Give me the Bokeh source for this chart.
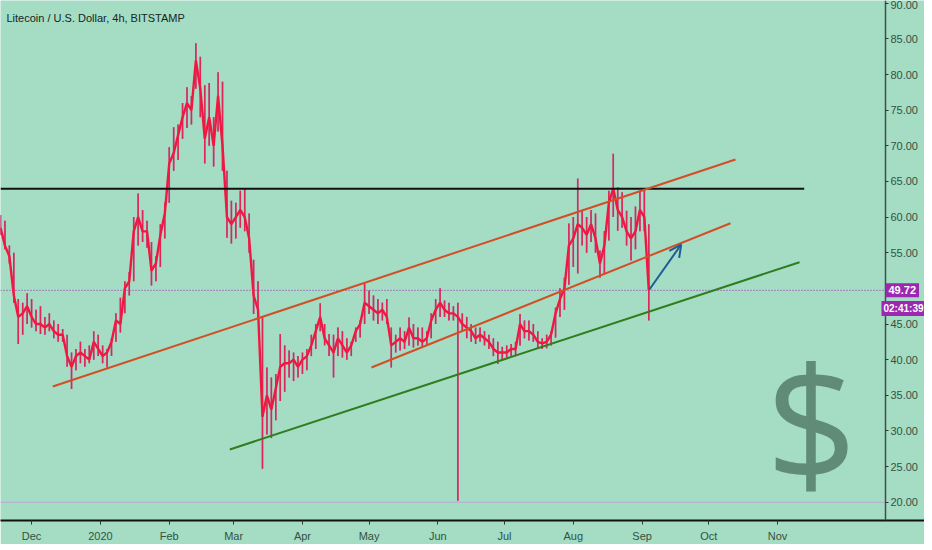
import pandas as pd
from bokeh.plotting import figure
from bokeh.models import (ColumnDataSource, FixedTicker, Label, Arrow, OpenHead,
                          PrintfTickFormatter, Range1d)
from bokeh.embed import file_html
from bokeh.resources import INLINE

# ---------------- data ----------------
title_text = "Litecoin / U.S. Dollar, 4h, BITSTAMP"
start_date = "2019-11-17"          # first sample, one sample every 2 days
highs = [60.3, 59.5, 56.0, 55.0, 48.5, 48.0, 49.3, 48.5, 47.0, 47.5,
         46.0, 46.5, 45.5, 45.0, 44.3, 43.5, 41.0, 41.5, 42.5, 41.5,
         42.0, 44.0, 43.5, 42.0, 41.5, 43.0, 46.5, 48.7, 51.0, 52.3,
         60.0, 63.3, 61.0, 59.5, 56.5, 54.5, 59.0, 62.0, 69.8, 72.6,
         73.0, 76.0, 78.2, 77.0, 84.4, 82.5, 78.5, 78.8, 74.0, 80.3,
         79.0, 66.5, 62.3, 62.0, 63.7, 64.0, 60.5, 54.0, 51.0, 46.0,
         38.9, 37.5, 38.0, 43.6, 42.0, 41.3, 41.0, 40.5, 41.0, 41.5,
         43.5, 45.0, 47.9, 45.0, 43.6, 43.5, 44.5, 44.0, 43.0, 42.5,
         44.5, 45.5, 50.7, 49.7, 49.0, 48.5, 48.0, 48.5, 44.5, 43.5,
         44.5, 44.0, 45.9, 45.0, 44.5, 44.5, 44.0, 46.5, 48.5, 50.0,
         48.3, 48.0, 47.5, 48.0, 46.5, 46.0, 45.0, 44.5, 44.5, 44.0,
         43.5, 43.0, 42.5, 41.8, 42.0, 42.2, 42.5, 46.4, 45.5, 45.5,
         45.0, 44.0, 43.0, 43.5, 44.0, 47.3, 50.0, 51.5, 59.1, 60.0,
         65.4, 60.9, 60.0, 61.0, 60.5, 55.3, 58.0, 63.7, 68.9, 64.2,
         63.5, 60.9, 60.0, 61.5, 63.7, 63.9, 59.0]
lows = [57.5, 55.5, 53.5, 48.0, 42.2, 43.5, 45.0, 44.5, 44.0, 43.6,
        43.5, 44.0, 43.0, 42.5, 42.5, 39.0, 35.9, 38.5, 39.5, 39.0,
        39.5, 40.0, 40.5, 39.5, 38.9, 40.5, 42.5, 43.8, 46.5, 49.0,
        51.0, 56.0, 56.5, 55.7, 50.4, 51.0, 53.0, 57.0, 62.0, 66.5,
        68.0, 71.0, 72.5, 73.0, 78.0, 74.0, 67.5, 70.0, 67.1, 72.0,
        66.5, 57.1, 56.3, 57.0, 58.5, 58.0, 55.0, 46.4, 45.9, 24.7,
        29.5, 29.0, 31.5, 34.2, 35.5, 37.5, 37.0, 37.5, 38.0, 38.5,
        40.5, 41.5, 44.0, 42.0, 40.5, 37.5, 40.5, 40.3, 40.0, 40.5,
        42.5, 43.1, 45.0, 46.4, 45.5, 45.0, 45.5, 45.0, 38.9, 41.0,
        41.3, 41.5, 42.0, 41.7, 42.0, 41.7, 42.0, 43.0, 45.0, 46.0,
        46.0, 45.5, 45.5, 20.2, 44.0, 43.0, 42.5, 42.2, 42.5, 42.0,
        41.5, 40.5, 39.4, 40.0, 40.3, 40.4, 40.5, 42.0, 43.0, 42.7,
        42.5, 41.5, 41.5, 41.6, 42.0, 43.1, 46.0, 47.0, 50.5, 53.0,
        52.1, 56.0, 55.0, 56.5, 55.0, 51.5, 52.0, 56.7, 60.0, 58.1,
        58.5, 56.0, 53.9, 55.5, 58.0, 58.0, 45.5]
closes = [58.5, 56.0, 54.5, 49.0, 46.0, 46.5, 47.5, 46.0, 45.0, 45.0,
          44.5, 45.0, 44.0, 43.5, 43.5, 40.5, 39.0, 40.5, 41.0, 40.5,
          40.0, 42.5, 41.5, 40.5, 41.0, 42.5, 45.5, 45.0, 50.0, 51.0,
          58.0, 60.0, 58.0, 58.0, 52.5, 53.5, 57.5, 60.5, 67.5, 69.0,
          71.5, 74.0, 76.0, 75.0, 82.0, 78.0, 71.0, 74.0, 70.0, 77.0,
          70.0, 60.0, 59.0, 60.0, 61.0, 60.0, 57.0, 49.0, 47.0, 32.0,
          35.0, 33.0, 36.0, 39.0, 39.5, 39.5, 40.0, 39.0, 40.0, 40.5,
          42.0, 44.0, 46.0, 43.0, 42.0, 41.0, 43.0, 42.0, 41.0, 42.0,
          44.0, 45.0, 48.0, 47.5, 47.0, 46.5, 47.0, 46.0, 42.0, 42.5,
          43.0, 42.5, 44.5, 43.0, 43.0, 42.5, 43.0, 45.5, 47.0, 48.0,
          47.0, 46.5, 46.5, 46.0, 45.0, 44.5, 44.0, 43.0, 43.5, 43.0,
          42.5, 41.5, 41.0, 41.0, 41.0, 41.5, 41.5, 45.0, 44.0, 44.0,
          43.5, 42.5, 42.3, 42.5, 43.5, 46.5, 48.5, 50.0, 56.0, 57.0,
          59.0, 58.5, 57.5, 59.0, 57.0, 53.5, 56.0, 62.0, 64.0, 61.0,
          60.0, 58.0, 57.0, 58.0, 61.0, 60.0, 49.72]

last_price = 49.72
last_price_text = "49.72"
countdown_text = "02:41:39"
low_line_price = 20.0

month_ticks = ["2019-12-01", "2020-01-01", "2020-02-01", "2020-03-01",
               "2020-04-01", "2020-05-01", "2020-06-01", "2020-07-01",
               "2020-08-01", "2020-09-01", "2020-10-01", "2020-11-01"]
month_labels = ["Dec", "2020", "Feb", "Mar", "Apr", "May", "Jun", "Jul",
                "Aug", "Sep", "Oct", "Nov"]
price_ticks = [20, 25, 30, 35, 40, 45, 50, 55, 60, 65, 70, 75, 80, 85, 90]

resistance_dates = ["2019-11-17", "2020-11-13"]
resistance_prices = [63.97, 63.97]
upper_channel_dates = ["2019-12-10 13:00", "2020-10-13 01:00"]
upper_channel_prices = [36.23, 68.08]
mid_channel_dates = ["2020-05-02 02:00", "2020-10-10 19:00"]
mid_channel_prices = [38.90, 59.14]
support_dates = ["2020-02-28 07:00", "2020-11-10 21:00"]
support_prices = [27.40, 53.67]
arrow_dates = ["2020-09-04 07:00", "2020-09-18 14:00"]
arrow_prices = [49.84, 56.15]
dollar_date = "2020-11-16 07:00"
dollar_price = 31.5

axis_date = "2020-12-19 14:24"          # where the price scale sits
view_dates = ["2019-11-17 00:00", "2021-01-06 04:20"]
view_prices = [17.44, 90.38]

# ---------------- style ----------------
BG = "#a4dcc4"
RED = "#f2173f"
PURPLE = "#8a62c6"
ORANGE = "#d24f25"
GREEN = "#2f7d1c"
BLUE = "#1f5c96"
TEXT = "#34523f"
BOX = "#9c27b0"
FONT = "Liberation Sans"


def ms(s):
    return pd.Timestamp(s).timestamp() * 1000.0


dates = pd.date_range(start_date, periods=len(highs), freq="2D")
src = ColumnDataSource(dict(date=dates, high=highs, low=lows, close=closes))

p = figure(frame_width=924, frame_height=520, x_axis_type="datetime",
           y_axis_location="right",
           x_range=Range1d(ms(view_dates[0]), ms(view_dates[1])),
           y_range=Range1d(view_prices[0], view_prices[1]),
           output_backend="svg", toolbar_location=None,
           min_border_left=0, min_border_top=0, min_border_right=0,
           min_border_bottom=22,
           background_fill_color=BG, border_fill_color=BG)
p.outline_line_color = None
p.grid.visible = False

# x axis
p.xaxis.ticker = FixedTicker(ticks=[ms(d) for d in month_ticks])
p.xaxis.major_label_overrides = {ms(d): lab for d, lab in zip(month_ticks, month_labels)}
p.xaxis.axis_line_color = "#111111"
p.xaxis.axis_line_width = 2
p.xaxis.major_tick_in = 0
p.xaxis.major_tick_out = 4
p.xaxis.minor_tick_line_color = None
p.xaxis.major_tick_line_color = "#333333"
p.xaxis.major_label_standoff = 5
p.xaxis.major_label_text_font = FONT
p.xaxis.major_label_text_font_size = "11px"
p.xaxis.major_label_text_color = TEXT

# y axis (price scale at the right edge of the chart area)
p.yaxis.fixed_location = ms(axis_date)
p.yaxis.ticker = FixedTicker(ticks=price_ticks)
p.yaxis.formatter = PrintfTickFormatter(format="%.2f")
p.yaxis.axis_line_color = "#3f4f47"
p.yaxis.axis_line_width = 1.5
p.yaxis.major_tick_in = 0
p.yaxis.major_tick_out = 3
p.yaxis.minor_tick_line_color = None
p.yaxis.major_tick_line_color = "#333333"
p.yaxis.major_label_standoff = 2
p.yaxis.major_label_text_font = FONT
p.yaxis.major_label_text_font_size = "11px"
p.yaxis.major_label_text_color = TEXT

# reference lines
p.line(x=[ms(view_dates[0]), ms(axis_date)], y=[low_line_price, low_line_price],
       line_color="#b7a9d3", line_width=1)
p.line(x=[ms(view_dates[0]), ms(axis_date)], y=[last_price, last_price],
       line_color=BOX, line_width=1, line_dash="1 2")

# candles
p.segment(x0="date", y0="low", x1="date", y1="high", source=src,
          line_color=PURPLE, line_width=1.4)
p.segment(x0="date", y0="low", x1="date", y1="high", source=src,
          line_color=RED, line_width=1.6, line_alpha=0.8)
p.line(x="date", y="close", source=src, line_color=RED, line_width=2.4)

# drawings
p.line(x=[ms(d) for d in resistance_dates], y=resistance_prices,
       line_color="#111111", line_width=2)
p.line(x=[ms(d) for d in upper_channel_dates], y=upper_channel_prices,
       line_color=ORANGE, line_width=2)
p.line(x=[ms(d) for d in mid_channel_dates], y=mid_channel_prices,
       line_color=ORANGE, line_width=2)
p.line(x=[ms(d) for d in support_dates], y=support_prices,
       line_color=GREEN, line_width=2)
p.add_layout(Arrow(x_start=ms(arrow_dates[0]), y_start=arrow_prices[0],
                   x_end=ms(arrow_dates[1]), y_end=arrow_prices[1],
                   line_color=BLUE, line_width=2,
                   end=OpenHead(size=12, line_color=BLUE, line_width=2)))

p.add_layout(Label(x=ms(dollar_date), y=dollar_price, text="$",
                   text_font="Open Sans", text_font_size="160px",
                   text_align="center", text_baseline="middle",
                   text_color="#5f8b77"))

p.add_layout(Label(x=6, y=503, x_units="screen", y_units="screen",
                   text=title_text, text_font=FONT, text_font_size="11px",
                   text_baseline="middle", text_color="#17261e"))

# price boxes on the price scale
p.add_layout(Label(x=885, y=last_price, x_units="screen", y_units="data",
                   text=last_price_text, text_font=FONT, text_font_size="11px",
                   text_font_style="bold", text_color="white",
                   text_baseline="middle", background_fill_color=BOX,
                   padding=3, level="overlay"))
p.add_layout(Label(x=881, y=212, x_units="screen", y_units="screen",
                   text=countdown_text, text_font=FONT, text_font_size="10px",
                   text_font_style="bold", text_color="white",
                   text_baseline="middle", background_fill_color=BOX,
                   padding=2, level="overlay"))

open("out.html", "w").write(file_html(p, INLINE))
